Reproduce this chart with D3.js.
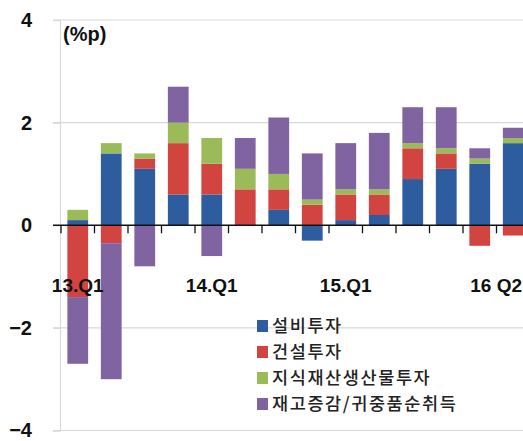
<!DOCTYPE html>
<html>
<head>
<meta charset="utf-8">
<script src="https://cdn.jsdelivr.net/npm/d3@7"></script>
<style>
  html, body { margin: 0; padding: 0; background: #fff; overflow: hidden; }
  svg { display: block; }
</style>
</head>
<body>
<svg id="chart" width="523" height="441"></svg>
<script>
// Quarterly contributions to investment growth (%p)
const quarters = ["13.Q1","13.Q2","13.Q3","13.Q4","14.Q1","14.Q2","14.Q3","14.Q4",
                  "15.Q1","15.Q2","15.Q3","15.Q4","16.Q1","16.Q2"];
const quarterLabels = ["13.Q1","","","","14.Q1","","","","15.Q1","","","","","16 Q2"];

const seriesNames = ["설비투자", "건설투자", "지식재산생산물투자", "재고증감/귀중품순취득"];
const equipment    = [0.1, 1.4, 1.1, 0.6, 0.6, 0.0, 0.3, -0.3, 0.1, 0.2, 0.9, 1.1, 1.2, 1.6];
const construction = [-1.4, -0.35, 0.2, 1.0, 0.6, 0.7, 0.4, 0.4, 0.5, 0.4, 0.6, 0.3, -0.4, -0.2];
const ipProducts   = [0.2, 0.2, 0.1, 0.4, 0.5, 0.4, 0.3, 0.1, 0.1, 0.1, 0.1, 0.1, 0.1, 0.1];
const inventory    = [-1.3, -2.65, -0.8, 0.7, -0.6, 0.6, 1.1, 0.9, 0.9, 1.1, 0.7, 0.8, 0.2, 0.2];

const yTicks = [-4, -2, 0, 2, 4];
const colors = ["#2D5D9E", "#D1443F", "#9BBB59", "#8064A2"];

const W = 523, H = 441;
const svg = d3.select("#chart");

const rows = quarters.map((q, i) => ({
  q,
  s0: equipment[i], s1: construction[i], s2: ipProducts[i], s3: inventory[i]
}));
const keys = ["s0", "s1", "s2", "s3"];

const stack = d3.stack().keys(keys).offset(d3.stackOffsetDiverging);
const layers = stack(rows);

const x = d3.scaleBand()
  .domain(quarters)
  .range([61, 530])
  .paddingInner(0.38)
  .paddingOuter(0.19);

const y = d3.scaleLinear().domain([-4, 4]).range([430.5, 20]);

// gridlines
svg.append("g")
  .selectAll("line")
  .data(yTicks.filter(t => t !== 0))
  .join("line")
  .attr("x1", 53).attr("x2", W)
  .attr("y1", d => y(d)).attr("y2", d => y(d))
  .attr("stroke", "#d9d9d9").attr("stroke-width", 1.2);

// y axis
const yAxis = svg.append("g")
  .attr("transform", "translate(60,0)")
  .call(d3.axisLeft(y).tickValues(yTicks).tickSize(7).tickPadding(21).tickFormat(d3.format("d")));
yAxis.select(".domain").attr("stroke", "#d9d9d9").attr("stroke-width", 1.2);
yAxis.selectAll(".tick line").attr("stroke", "#d9d9d9").attr("stroke-width", 1.2);
yAxis.selectAll(".tick text")
  .attr("fill", "#111")
  .style("font-family", "'Liberation Sans', Arial, sans-serif")
  .style("font-weight", "bold")
  .style("font-size", "20px");
yAxis.selectAll(".tick text").attr("text-anchor", "end");

// bars
svg.append("g")
  .selectAll("g")
  .data(layers)
  .join("g")
  .attr("fill", (d, i) => colors[i])
  .selectAll("rect")
  .data(d => d)
  .join("rect")
  .attr("x", d => x(d.data.q))
  .attr("width", x.bandwidth())
  .attr("y", d => y(Math.max(d[0], d[1])))
  .attr("height", d => Math.abs(y(d[0]) - y(d[1])));

// zero axis with ticks at category boundaries
svg.append("line")
  .attr("x1", 53).attr("x2", W)
  .attr("y1", y(0)).attr("y2", y(0))
  .attr("stroke", "#111").attr("stroke-width", 1.5);

const step = x.step();
const bounds = d3.range(quarters.length + 1).map(i => x.range()[0] + i * step);
svg.append("g")
  .selectAll("line")
  .data(bounds)
  .join("line")
  .attr("x1", d => d).attr("x2", d => d)
  .attr("y1", y(0)).attr("y2", y(0) + 8)
  .attr("stroke", "#111").attr("stroke-width", 1.3);

// category labels
const lbl = svg.append("g")
  .selectAll("text")
  .data(quarters.map((q, i) => ({ q, t: quarterLabels[i] })).filter(d => d.t))
  .join("text")
  .attr("y", 292)
  .attr("text-anchor", "middle")
  .attr("fill", "#111")
  .style("font-family", "'Liberation Sans', Arial, sans-serif")
  .style("font-weight", "bold")
  .style("font-size", "19px")
  .text(d => d.t);
lbl.attr("x", function(d) {
  const cx = x(d.q) + x.bandwidth() / 2;
  const half = this.getComputedTextLength() / 2;
  return Math.min(cx, W - 1 - half);
});

// unit label
svg.append("text")
  .attr("x", 63).attr("y", 41)
  .attr("fill", "#111")
  .style("font-family", "'Liberation Sans', Arial, sans-serif")
  .style("font-weight", "bold")
  .style("font-size", "20px")
  .text("(%p)");

// legend
const legend = svg.append("g").attr("transform", "translate(257,326)");
const item = legend.selectAll("g")
  .data(seriesNames)
  .join("g")
  .attr("transform", (d, i) => `translate(0,${i * 26})`);
item.append("rect")
  .attr("x", 0).attr("y", -6)
  .attr("width", 11).attr("height", 12)
  .attr("fill", (d, i) => colors[i]);
item.append("text")
  .attr("x", 15).attr("y", 0).attr("dy", "0.36em")
  .attr("fill", "#222")
  .style("font-family", "'Noto Sans CJK KR', sans-serif")
  .style("font-size", "17.5px")
  .style("font-weight", "500")
  .style("letter-spacing", "1.6px")
  .text(d => d);
</script>
</body>
</html>
